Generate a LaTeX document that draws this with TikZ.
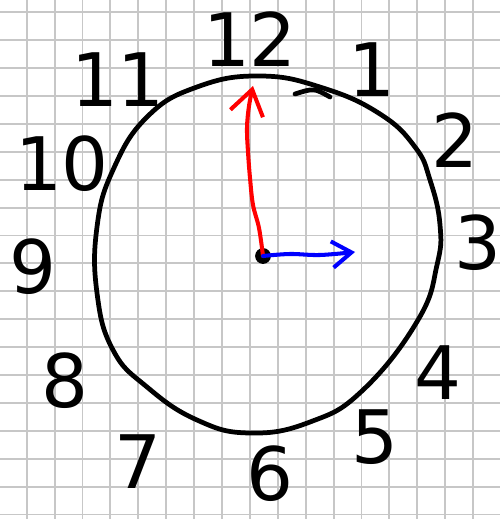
\documentclass[tikz,border=0pt]{standalone}
\usepackage{fontspec}
\setmainfont{DejaVu Sans}
\usepackage{tikz}
\usetikzlibrary{arrows.meta}
\tikzset{
    gridline/.style={
        line width=1.1pt,
        black!22
    },
    ink/.style={
        line width=2.7pt,
        line cap=round,
        line join=round
    },
    hourhand/.style={
        line width=2.3pt,
        red,
        line cap=round,
        -{Straight Barb[length=14pt,width=19pt,line width=2.3pt]}
    },
    minhand/.style={
        line width=2.3pt,
        blue,
        line cap=round,
        -{Straight Barb[length=11pt,width=15pt,line width=2.3pt]}
    },
    hub/.style={
        circle,
        fill=black,
        inner sep=0pt,
        minimum size=9pt
    },
    numeral/.style={
        font=\fontsize{42}{42}\selectfont,
        inner sep=0pt
    }
}
\begin{document}
\begin{tikzpicture}[x=0.02cm,y=-0.02cm]

\useasboundingbox (0,0) rectangle (500,519);
\fill[white] (0,0) rectangle (500,519);

%---------------- Grid paper ----------------

\foreach \gx in {0,...,16}
    \draw[gridline] ({26.7+27.9*\gx},0) -- ({26.7+27.9*\gx},519);
\foreach \gy in {0,...,18}
    \draw[gridline] (0,{12.3+27.9*\gy}) -- (500,{12.3+27.9*\gy});

%---------------- Face ----------------

\draw[ink] plot[smooth cycle, tension=0.75] coordinates {
    (260,76) (323,88) (380,114) (415,147)
    (430,180) (440,225) (437,265) (418,320)
    (363,390) (310,422) (250,433) (197,420) (147,387)
    (113,350) (97,293) (97,227) (113,170) (147,117) (197,87)};
\draw[ink] (295,94) .. controls (314,88) .. (330,97);

%---------------- Numbers ----------------

\node[numeral] (n12) at (250,39) {12};
\node[numeral] (n1) at (372,70) {1};
\node[numeral] (n2) at (455,140) {2};
\node[numeral] (n3) at (478,243) {3};
\node[numeral] (n4) at (438,373) {4};
\node[numeral] (n5) at (375,437) {5};
\node[numeral] (n6) at (270,474) {6};
\node[numeral] (n7) at (138,462) {7};
\node[numeral] (n8) at (65,381) {8};
\node[numeral] (n9) at (33,267) {9};
\node[numeral] (n10) at (62,164) {10};
\node[numeral] (n11) at (118,80) {11};

%---------------- Hands ----------------

\node[hub] (ctr) at (263,256) {};
\coordinate (hourtip) at (253,86);
\coordinate (mintip) at (355,252);

\draw[hourhand] plot[smooth, tension=0.6] coordinates {
    (ctr) (259,228) (253,205) (250,178) (248,152) (247,128) (249,106) (hourtip)};
\draw[minhand] plot[smooth, tension=0.6] coordinates {
    (ctr) (290,254) (320,255) (mintip)};

\end{tikzpicture}
\end{document}
